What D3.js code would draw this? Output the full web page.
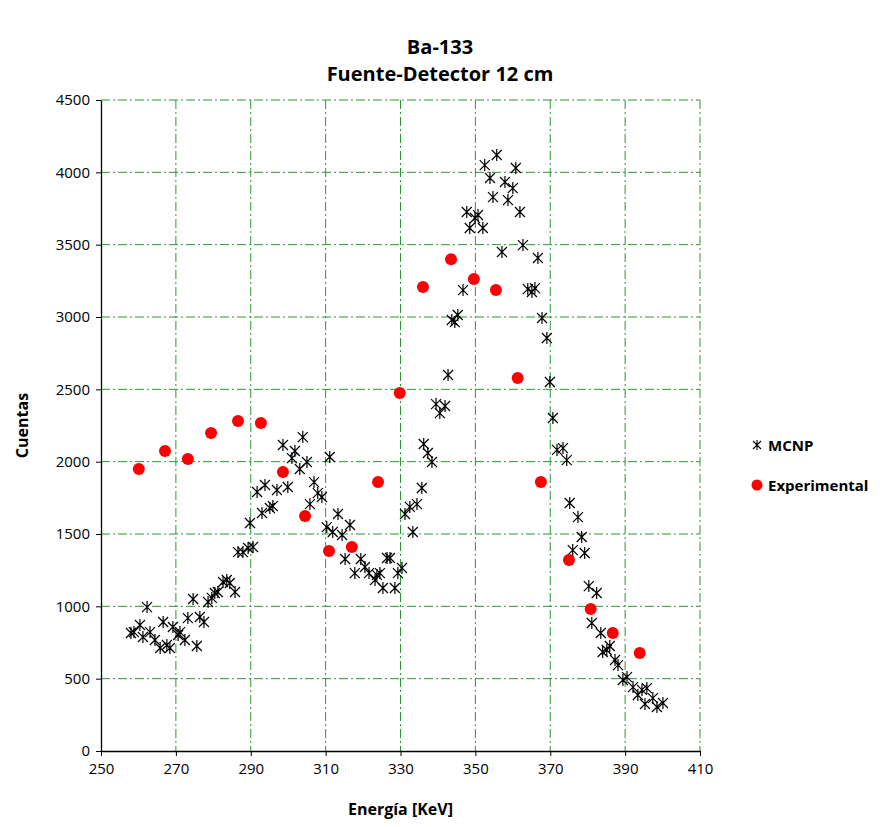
<!DOCTYPE html>
<html>
<head>
<meta charset="utf-8">
<script src="https://cdn.jsdelivr.net/npm/d3@7"></script>
<style>
body { margin: 0; background: #fff; }
text { font-family: "Open Sans", Lato, sans-serif; }
.axis text { font-size: 15px; fill: #000; }
.axis path, .axis line { stroke: #000; }
</style>
</head>
<body>
<script>
// MCNP simulation (energia keV, cuentas)
var mcnpE = [258.0, 258.8, 260.4, 261.2, 262.3, 263.1, 264.4, 265.8, 266.6, 267.6,
    268.4, 269.2, 270.6, 271.1, 272.4, 273.2, 274.6, 275.6, 276.4, 277.5,
    278.6, 279.6, 280.4, 281.2, 282.6, 283.6, 284.4, 285.8, 286.6, 287.9,
    289.3, 290.6, 289.8, 291.7, 293.0, 293.8, 295.1, 295.9, 297.0, 298.6,
    299.9, 301.0, 301.8, 303.1, 303.9, 305.0, 305.8, 306.9, 307.9, 309.0,
    311.1, 310.3, 311.9, 313.3, 314.4, 315.2, 316.5, 317.8, 319.4, 320.5,
    321.6, 323.2, 323.7, 324.5, 325.3, 326.4, 327.2, 328.5, 329.3, 330.4,
    331.2, 332.5, 333.3, 334.4, 335.7, 336.2, 337.3, 338.4, 339.5, 340.5,
    341.9, 342.7, 343.7, 344.5, 345.3, 346.7, 347.7, 348.5, 349.9, 350.7,
    352.0, 352.5, 353.9, 354.7, 355.7, 357.1, 357.9, 358.7, 360.0, 360.8,
    361.9, 362.7, 364.0, 365.1, 365.9, 366.7, 367.8, 369.1, 369.9, 370.7,
    371.8, 373.4, 374.4, 375.2, 377.4, 378.4, 376.0, 379.2, 380.3, 382.4,
    381.1, 383.5, 384.0, 385.1, 385.9, 387.3, 388.1, 389.4, 390.5, 392.1,
    393.4, 394.5, 395.8, 395.3, 397.4, 398.5, 400.1];
var mcnpC = [816, 822, 871, 788, 995, 822, 767, 712, 892, 733,
    712, 857, 802, 822, 767, 919, 1051, 726, 926, 892,
    1030, 1058, 1092, 1099, 1168, 1182, 1161, 1099, 1375, 1375,
    1403, 1410, 1576, 1790, 1645, 1839, 1680, 1693, 1804, 2115,
    1825, 2025, 2074, 1949, 2170, 1998, 1707, 1859, 1783, 1756,
    2032, 1548, 1514, 1638, 1493, 1327, 1562, 1230, 1327, 1272,
    1230, 1182, 1217, 1230, 1127, 1334, 1334, 1127, 1230, 1265,
    1638, 1687, 1514, 1707, 1818, 2122, 2060, 1998, 2398, 2336,
    2385, 2599, 2979, 2965, 3014, 3186, 3726, 3615, 3684, 3705,
    3615, 4050, 3961, 3829, 4120, 3449, 3933, 3808, 3891, 4030,
    3726, 3497, 3193, 3173, 3200, 3408, 2993, 2855, 2551, 2302,
    2081, 2094, 2011, 1714, 1617, 1479, 1389, 1369, 1140, 1092,
    885, 816, 684, 698, 726, 629, 594, 491, 511, 442,
    387, 422, 435, 325, 366, 304, 332];

// Experimental
var expE = [260.1, 267.1, 273.2, 279.4, 286.6, 292.7, 298.6, 304.5, 310.9, 317.0,
    324.0, 329.8, 336.0, 343.5, 349.6, 355.5, 361.3, 367.5, 375.0, 380.8,
    386.7, 393.9];
var expC = [1950, 2073, 2018, 2198, 2281, 2267, 1928, 1624, 1382, 1410,
    1859, 2474, 3207, 3400, 3262, 3186, 2578, 1859, 1320, 981,
    815, 677];

var xTicks = [250, 270, 290, 310, 330, 350, 370, 390, 410];
var yTicks = [0, 500, 1000, 1500, 2000, 2500, 3000, 3500, 4000, 4500];
var seriesNames = ["MCNP", "Experimental"];

var margin = {top: 100, right: 189, bottom: 76, left: 101},
    width = 889 - margin.left - margin.right,
    height = 827 - margin.top - margin.bottom;

var x = d3.scaleLinear()
    .domain([250, 410])
    .range([0, width]);

var y = d3.scaleLinear()
    .domain([0, 4500])
    .range([height, 0]);

var container = d3.select("body").append("svg")
    .attr("width", 889)
    .attr("height", 827);

var svg = container.append("g")
    .attr("transform", "translate(" + margin.left + "," + margin.top + ")");

// grid
var gridColor = "#2a9632";
svg.append("g")
    .selectAll("line")
    .data(xTicks.slice(1))
    .enter().append("line")
    .attr("x1", d => x(d)).attr("x2", d => x(d))
    .attr("y1", 0).attr("y2", height)
    .attr("stroke", gridColor)
    .attr("stroke-width", 1)
    .attr("stroke-dasharray", "9,3,2,3");

svg.append("g")
    .selectAll("line")
    .data(yTicks.slice(1))
    .enter().append("line")
    .attr("x1", 0).attr("x2", width)
    .attr("y1", d => y(d)).attr("y2", d => y(d))
    .attr("stroke", gridColor)
    .attr("stroke-width", 1)
    .attr("stroke-dasharray", "9,3,2,3");

// axes
svg.append("g")
    .attr("class", "axis axis--x")
    .attr("transform", "translate(0," + height + ")")
    .call(d3.axisBottom(x).tickValues(xTicks).tickSize(5).tickSizeOuter(0).tickPadding(7))
    .call(g => g.select(".domain").attr("stroke-width", 1.3));

svg.append("g")
    .attr("class", "axis axis--y")
    .call(d3.axisLeft(y).tickValues(yTicks).tickFormat(d3.format("d")).tickSize(5).tickSizeOuter(0).tickPadding(6))
    .call(g => g.select(".domain").attr("stroke-width", 1.3));

// MCNP stars
var star = "M-5,-5L5,5M-5,5L5,-5M0,-6L0,6";
svg.append("g")
    .selectAll("path")
    .data(mcnpE.map((e, i) => [e, mcnpC[i]]))
    .enter().append("path")
    .attr("transform", d => "translate(" + x(d[0]) + "," + y(d[1]) + ")")
    .attr("d", star)
    .attr("fill", "none")
    .attr("stroke", "#000")
    .attr("stroke-width", 1.2);

// experimental dots
svg.append("g")
    .selectAll("circle")
    .data(expE.map((e, i) => [e, expC[i]]))
    .enter().append("circle")
    .attr("cx", d => x(d[0]))
    .attr("cy", d => y(d[1]))
    .attr("r", 6)
    .attr("fill", "#ff0000");

// titles
container.append("text")
    .attr("x", 440).attr("y", 54)
    .attr("text-anchor", "middle")
    .style("font-size", "20px").style("font-weight", "bold")
    .text("Ba-133");
container.append("text")
    .attr("x", 440).attr("y", 81)
    .attr("text-anchor", "middle")
    .style("font-size", "20px").style("font-weight", "bold")
    .text("Fuente-Detector 12 cm");

container.append("text")
    .attr("transform", "translate(28," + (margin.top + height / 2) + ") rotate(-90)")
    .attr("text-anchor", "middle")
    .style("font-size", "16px").style("font-weight", "bold")
    .text("Cuentas");

container.append("text")
    .attr("x", margin.left + width / 2).attr("y", 815)
    .attr("text-anchor", "middle")
    .style("font-size", "16px").style("font-weight", "bold")
    .text("Energía [KeV]");

// legend
var legend = container.append("g")
    .attr("transform", "translate(757,445)");
legend.append("path")
    .attr("d", "M-4,-4L4,4M-4,4L4,-4M0,-5L0,5")
    .attr("stroke", "#000").attr("stroke-width", 1.1);
legend.append("circle")
    .attr("cy", 40).attr("r", 5.5).attr("fill", "#ff0000");
legend.selectAll("text")
    .data(seriesNames)
    .enter().append("text")
    .attr("x", 11).attr("y", (d, i) => i * 40 + 5.5)
    .style("font-size", "15px").style("font-weight", "bold")
    .text(d => d);
</script>
</body>
</html>
